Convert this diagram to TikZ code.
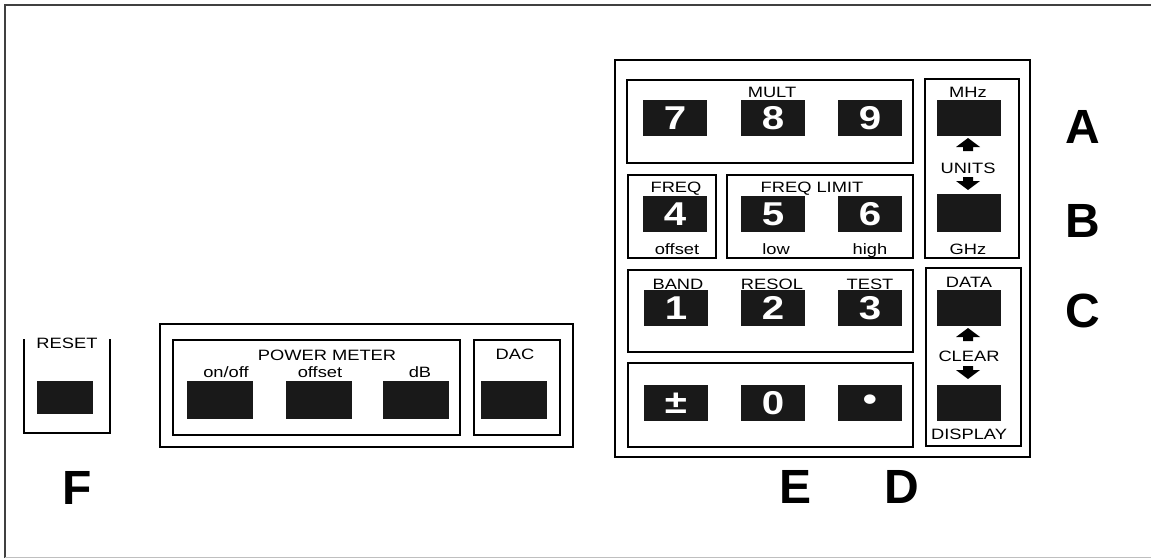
\documentclass[tikz,border=0pt]{standalone}
\usepackage{fontspec}
\newfontfamily\panelfont{Liberation Sans}[FakeStretch=1.22]
\newfontfamily\tagfont{Liberation Sans}

\tikzset{
    panel/.style={line width=1.4pt},
    keybtn/.style={fill=black!90, minimum width=64pt, minimum height=36pt, inner sep=0pt,
                   text=white, font=\panelfont\bfseries\fontsize{33}{33}\selectfont},
    lbl/.style={anchor=base, inner sep=0pt, font=\panelfont\fontsize{15}{15}\selectfont},
    tag/.style={anchor=base, inner sep=0pt, font=\tagfont\bfseries\fontsize{48}{48}\selectfont},
}

\begin{document}
\begin{tikzpicture}[x=1pt, y=-1pt]
    \useasboundingbox (0,0) rectangle (1151,558);
    \draw[line width=1.2pt, black!75] (5,558) -- (5,5) -- (1151,5);
    \draw[line width=0.8pt, black!25] (5,557) -- (1151,557);

    % keypad
    \draw[panel] (615,60) rectangle (1030,457);
    \draw[panel] (627,80) rectangle (913,163);
    \draw[panel] (628,175) rectangle (716,258);
    \draw[panel] (727,175) rectangle (913,258);
    \draw[panel] (628,270) rectangle (913,352);
    \draw[panel] (628,363) rectangle (913,447);
    \draw[panel] (925,79) rectangle (1019,258);
    \draw[panel] (926,268) rectangle (1021,446);

    \node[keybtn] (k7) at (675,118) {7};
    \node[keybtn] (k8) at (773,118) {8};
    \node[keybtn] (k9) at (870,118) {9};
    \node[lbl] (mult) at (772,97) {MULT};

    \node[keybtn] (k4) at (675,214) {4};
    \node[keybtn] (k5) at (773,214) {5};
    \node[keybtn] (k6) at (870,214) {6};
    \node[lbl] (freq) at (676,192) {FREQ};
    \node[lbl] (flimit) at (812,192) {FREQ LIMIT};
    \node[lbl] (foffset) at (677,254) {offset};
    \node[lbl] (low) at (776,254) {low};
    \node[lbl] (high) at (870,254) {high};

    \node[keybtn] (k1) at (676,308) {1};
    \node[keybtn] (k2) at (773,308) {2};
    \node[keybtn] (k3) at (870,308) {3};
    \node[lbl] (band) at (678,289) {BAND};
    \node[lbl] (resol) at (772,289) {RESOL};
    \node[lbl] (test) at (870,289) {TEST};

    \node[keybtn] (kpm) at (676,403) {±};
    \node[keybtn] (k0) at (773,403) {0};
    \node[keybtn] (kdot) at (870,403) {•};

    % units and clear
    \node[keybtn] (mhz) at (969,118) {};
    \node[keybtn, minimum height=38pt] (ghz) at (969,213) {};
    \node[lbl] (mhzl) at (968,97) {MHz};
    \node[lbl] (units) at (968,173) {UNITS};
    \node[lbl] (ghzl) at (968,254) {GHz};
    \fill (956,147) -- (968,138) -- (980,147) -- (973,147) -- (973,151) -- (963,151) -- (963,147) -- cycle;
    \fill (963,177) -- (973,177) -- (973,181) -- (980,181) -- (968,190) -- (956,181) -- (963,181) -- cycle;

    \node[keybtn] (data) at (969,308) {};
    \node[keybtn] (disp) at (969,403) {};
    \node[lbl] (datal) at (969,287) {DATA};
    \node[lbl] (clear) at (969,361) {CLEAR};
    \node[lbl] (displ) at (969,439) {DISPLAY};
    \fill (956,337) -- (968,328) -- (980,337) -- (973,337) -- (973,341) -- (963,341) -- (963,337) -- cycle;
    \fill (963,366) -- (973,366) -- (973,370) -- (980,370) -- (968,379) -- (956,370) -- (963,370) -- cycle;

    % reset
    \draw[panel] (24,339) -- (24,433) -- (110,433) -- (110,339);
    \node[lbl] (resetl) at (67,348) {RESET};
    \node[keybtn, minimum width=56pt, minimum height=33pt] (reset) at (65,397) {};

    % power meter and dac
    \draw[panel] (160,324) rectangle (573,447);
    \draw[panel] (173,340) rectangle (460,435);
    \draw[panel] (474,340) rectangle (560,435);
    \node[lbl] (pmeter) at (327,360) {POWER METER};
    \node[lbl] (onoff) at (226,377) {on/off};
    \node[lbl] (poffset) at (320,377) {offset};
    \node[lbl] (db) at (420,377) {dB};
    \node[lbl] (dac) at (515,359) {DAC};
    \node[keybtn, minimum width=66pt, minimum height=38pt] (konoff) at (220,400) {};
    \node[keybtn, minimum width=66pt, minimum height=38pt] (koffset) at (319,400) {};
    \node[keybtn, minimum width=66pt, minimum height=38pt] (kdb) at (416,400) {};
    \node[keybtn, minimum width=66pt, minimum height=38pt] (kdac) at (514,400) {};

    % letters
    \node[tag] (ta) at (1083,143) {A};
    \node[tag] (tb) at (1083,237) {B};
    \node[tag] (tc) at (1083,327) {C};
    \node[tag] (td) at (902,503) {D};
    \node[tag] (te) at (795,503) {E};
    \node[tag] (tf) at (77,504) {F};
\end{tikzpicture}
\end{document}
